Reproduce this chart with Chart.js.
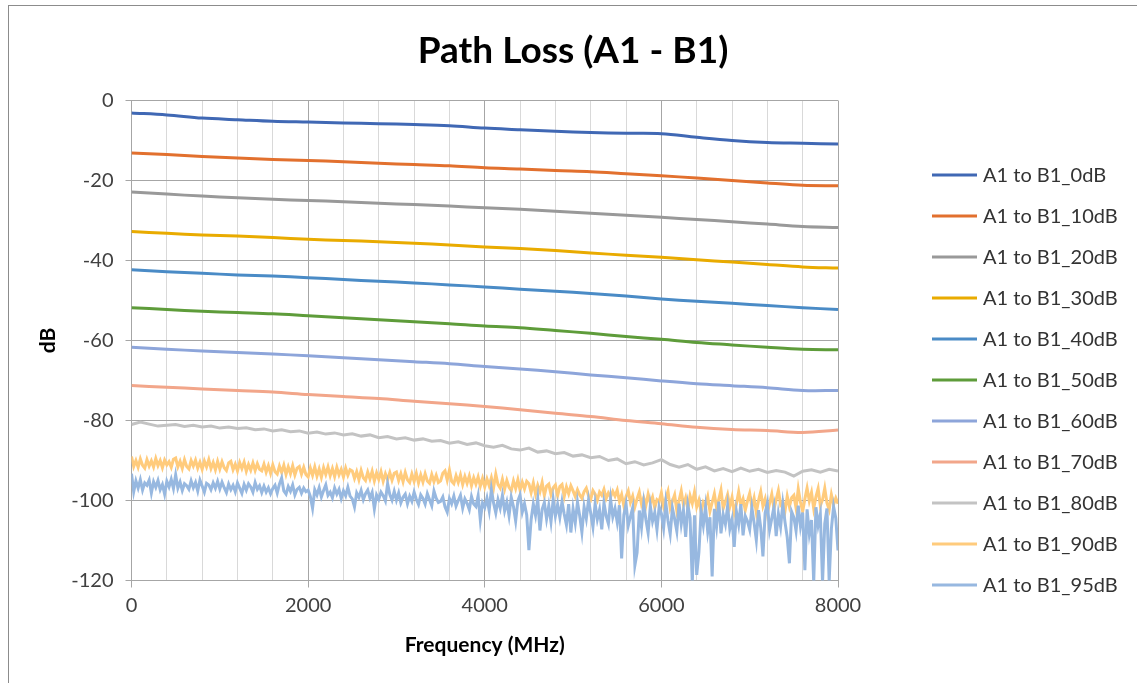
<!DOCTYPE html>
<html lang="en">
<head>
    <meta charset="UTF-8" />
    <title>Path Loss (A1 - B1)</title>
    <script src="https://cdn.jsdelivr.net/npm/chart.js"></script>
    <style>
        html, body { margin: 0; padding: 0; background: #fff; overflow: hidden; }
        #wrap { position: relative; width: 1137px; height: 683px; }
        #frame { position: absolute; left: 8px; top: 5px; width: 1200px; height: 800px; border: 1px solid #8c8c8c; box-sizing: border-box; pointer-events: none; }
    </style>
</head>
<body>
<div id="wrap">
    <canvas id="pathLossChart"></canvas>
    <div id="frame"></div>
</div>
<script>
// frequency grids (MHz)
const smoothFreq = [0, 400, 800, 1200, 1600, 2000, 2400, 2800, 3200, 3600, 4000,
    4400, 4800, 5200, 5600, 6000, 6400, 6800, 7200, 7600, 8000];

const midFreq = [0, 100, 200, 300, 400, 500, 600, 700, 800, 900,
    1000, 1100, 1200, 1300, 1400, 1500, 1600, 1700, 1800, 1900,
    2000, 2100, 2200, 2300, 2400, 2500, 2600, 2700, 2800, 2900,
    3000, 3100, 3200, 3300, 3400, 3500, 3600, 3700, 3800, 3900,
    4000, 4100, 4200, 4300, 4400, 4500, 4600, 4700, 4800, 4900,
    5000, 5100, 5200, 5300, 5400, 5500, 5600, 5700, 5800, 5900,
    6000, 6100, 6200, 6300, 6400, 6500, 6600, 6700, 6800, 6900,
    7000, 7100, 7200, 7300, 7400, 7500, 7600, 7700, 7800, 7900, 8000];

const fineFreq = [
    0, 25, 50, 75, 100, 125, 150, 175, 200, 225, 250, 275, 300, 325, 350, 375, 400, 425, 450, 475,
    500, 525, 550, 575, 600, 625, 650, 675, 700, 725, 750, 775, 800, 825, 850, 875, 900, 925, 950, 975,
    1000, 1025, 1050, 1075, 1100, 1125, 1150, 1175, 1200, 1225, 1250, 1275, 1300, 1325, 1350, 1375, 1400, 1425, 1450, 1475,
    1500, 1525, 1550, 1575, 1600, 1625, 1650, 1675, 1700, 1725, 1750, 1775, 1800, 1825, 1850, 1875, 1900, 1925, 1950, 1975,
    2000, 2025, 2050, 2075, 2100, 2125, 2150, 2175, 2200, 2225, 2250, 2275, 2300, 2325, 2350, 2375, 2400, 2425, 2450, 2475,
    2500, 2525, 2550, 2575, 2600, 2625, 2650, 2675, 2700, 2725, 2750, 2775, 2800, 2825, 2850, 2875, 2900, 2925, 2950, 2975,
    3000, 3025, 3050, 3075, 3100, 3125, 3150, 3175, 3200, 3225, 3250, 3275, 3300, 3325, 3350, 3375, 3400, 3425, 3450, 3475,
    3500, 3525, 3550, 3575, 3600, 3625, 3650, 3675, 3700, 3725, 3750, 3775, 3800, 3825, 3850, 3875, 3900, 3925, 3950, 3975,
    4000, 4025, 4050, 4075, 4100, 4125, 4150, 4175, 4200, 4225, 4250, 4275, 4300, 4325, 4350, 4375, 4400, 4425, 4450, 4475,
    4500, 4525, 4550, 4575, 4600, 4625, 4650, 4675, 4700, 4725, 4750, 4775, 4800, 4825, 4850, 4875, 4900, 4925, 4950, 4975,
    5000, 5025, 5050, 5075, 5100, 5125, 5150, 5175, 5200, 5225, 5250, 5275, 5300, 5325, 5350, 5375, 5400, 5425, 5450, 5475,
    5500, 5525, 5550, 5575, 5600, 5625, 5650, 5675, 5700, 5725, 5750, 5775, 5800, 5825, 5850, 5875, 5900, 5925, 5950, 5975,
    6000, 6025, 6050, 6075, 6100, 6125, 6150, 6175, 6200, 6225, 6250, 6275, 6300, 6325, 6350, 6375, 6400, 6425, 6450, 6475,
    6500, 6525, 6550, 6575, 6600, 6625, 6650, 6675, 6700, 6725, 6750, 6775, 6800, 6825, 6850, 6875, 6900, 6925, 6950, 6975,
    7000, 7025, 7050, 7075, 7100, 7125, 7150, 7175, 7200, 7225, 7250, 7275, 7300, 7325, 7350, 7375, 7400, 7425, 7450, 7475,
    7500, 7525, 7550, 7575, 7600, 7625, 7650, 7675, 7700, 7725, 7750, 7775, 7800, 7825, 7850, 7875, 7900, 7925, 7950, 7975,
    8000];

// path loss in dB
const loss0dB  = [-3.1, -3.6, -4.4, -4.8, -5.2, -5.4, -5.6, -5.8, -6.0, -6.3, -6.9,
    -7.3, -7.7, -8.0, -8.2, -8.3, -9.2, -10.0, -10.5, -10.7, -10.9];
const loss10dB = [-13.1, -13.5, -14.0, -14.4, -14.75, -15.0, -15.3, -15.7, -16.0, -16.3, -16.8,
    -17.1, -17.5, -17.8, -18.3, -18.8, -19.4, -20.0, -20.6, -21.2, -21.3];
const loss20dB = [-22.9, -23.4, -23.9, -24.3, -24.7, -25.0, -25.3, -25.7, -26.0, -26.4, -26.8,
    -27.2, -27.7, -28.2, -28.7, -29.2, -29.75, -30.3, -30.9, -31.5, -31.75];
const loss30dB = [-32.75, -33.2, -33.6, -33.9, -34.25, -34.7, -35.0, -35.3, -35.7, -36.1, -36.6,
    -37.0, -37.5, -38.1, -38.7, -39.2, -39.8, -40.4, -41.0, -41.6, -41.9];
const loss40dB = [-42.3, -42.8, -43.2, -43.6, -43.9, -44.3, -44.75, -45.2, -45.6, -46.1, -46.6,
    -47.2, -47.7, -48.25, -48.9, -49.6, -50.2, -50.7, -51.25, -51.8, -52.25];
const loss50dB = [-51.8, -52.25, -52.7, -53.0, -53.3, -53.8, -54.3, -54.8, -55.3, -55.8, -56.4,
    -56.8, -57.5, -58.2, -59.0, -59.7, -60.5, -61.1, -61.7, -62.2, -62.3];
const loss60dB = [-61.7, -62.2, -62.6, -63.0, -63.4, -63.8, -64.3, -64.8, -65.3, -65.8, -66.5,
    -67.1, -67.8, -68.6, -69.3, -70.1, -70.8, -71.3, -71.8, -72.5, -72.5];
const loss70dB = [-71.25, -71.7, -72.1, -72.5, -72.9, -73.5, -74.0, -74.5, -75.2, -75.8, -76.5,
    -77.3, -78.2, -79.0, -80.0, -80.8, -81.7, -82.25, -82.5, -83.0, -82.4];

const loss80dB = [
    -81.0, -80.4, -80.9, -81.4, -81.2, -81.0, -81.5, -81.2, -81.6, -81.4,
    -81.9, -81.6, -82.0, -81.8, -82.3, -82.1, -82.6, -82.3, -82.8, -82.6,
    -83.2, -82.9, -83.4, -83.1, -83.6, -83.3, -83.9, -83.6, -84.3, -84.0,
    -84.6, -84.3, -84.9, -84.6, -85.2, -85.0, -85.7, -85.3, -86.0, -85.6,
    -86.3, -86.7, -86.2, -87.1, -87.4, -86.9, -87.9, -87.6, -88.3, -88.0,
    -88.9, -88.6, -89.3, -89.0, -90.0, -89.6, -90.8, -90.3, -91.1, -90.6,
    -89.8, -91.0, -91.7, -91.0, -92.2, -91.6, -92.6, -92.0, -92.8, -91.9,
    -92.7, -92.2, -93.0, -92.5, -92.9, -93.9, -92.7, -92.3, -92.9, -92.2,
    -92.6];

const loss90dB = [
    -89.0, -91.5, -90.0, -91.7, -89.6, -91.2, -91.9, -89.8, -91.4, -90.1, -91.6, -89.5, -91.3, -90.0, -91.8, -89.9, -91.1, -90.3, -91.7, -89.7,
    -89.4, -91.6, -90.2, -92.0, -89.8, -91.5, -92.1, -90.0, -91.4, -89.9, -91.9, -90.4, -92.2, -90.1, -91.6, -89.8, -92.0, -90.5, -92.3, -90.2,
    -92.1, -90.3, -91.8, -92.5, -90.6, -90.2, -92.3, -90.9, -92.6, -90.5, -92.0, -90.4, -92.7, -91.0, -92.4, -90.6, -92.5, -90.8, -92.2, -92.6,
    -90.9, -92.9, -91.3, -93.2, -91.1, -92.8, -93.4, -91.4, -93.0, -91.2, -93.5, -91.6, -93.3, -91.3, -93.6, -91.9, -91.5, -93.4, -91.7, -93.5,
    -94.1, -91.9, -93.7, -91.6, -93.9, -92.1, -94.2, -91.8, -93.5, -91.6, -93.8, -92.0, -94.0, -91.7, -93.6, -92.2, -94.1, -91.9, -93.7, -92.3,
    -92.6, -94.5, -92.8, -94.8, -92.5, -94.3, -95.0, -92.9, -94.6, -92.7, -95.1, -93.1, -94.7, -92.8, -95.2, -93.3, -94.8, -93.0, -94.9, -93.2,
    -92.9, -95.0, -93.3, -95.3, -93.0, -94.8, -95.5, -93.4, -95.2, -93.2, -95.6, -93.6, -95.4, -93.3, -95.1, -95.7, -93.5, -95.3, -93.7, -95.5,
    -95.1, -93.2, -92.6, -94.9, -92.4, -95.2, -95.8, -93.8, -95.5, -93.6, -96.0, -94.0, -95.7, -93.9, -96.3, -94.3, -95.9, -94.1, -96.4, -94.5,
    -96.6, -94.6, -96.3, -94.3, -96.8, -93.4, -96.0, -96.9, -94.7, -97.2, -95.0, -96.7, -97.5, -95.1, -97.0, -94.8, -97.4, -95.4, -97.1, -95.2,
    -95.8, -98.0, -95.6, -98.4, -96.2, -97.8, -95.5, -98.7, -96.4, -95.9, -98.5, -96.8, -96.1, -98.8, -96.5, -96.0, -99.0, -96.6, -98.3, -96.3,
    -97.6, -99.0, -97.3, -98.6, -99.4, -97.8, -96.9, -98.8, -99.7, -97.5, -98.4, -99.9, -97.9, -98.7, -97.2, -99.5, -98.1, -99.1, -97.7, -98.9,
    -97.4, -100.2, -98.5, -101.3, -99.0, -97.6, -100.5, -98.9, -101.6, -99.6, -97.9, -100.9, -99.3, -101.2, -98.4, -100.6, -99.1, -101.8, -99.8, -100.3,
    -98.1, -101.4, -99.5, -97.7, -101.9, -100.2, -98.6, -102.5, -100.0, -97.6, -101.1, -99.3, -102.2, -98.8, -100.7, -97.9, -101.6, -99.9, -102.9, -100.4,
    -101.3, -99.1, -102.7, -100.5, -98.3, -101.8, -99.7, -97.4, -102.0, -100.3, -98.5, -101.5, -99.2, -103.1, -100.8, -97.8, -101.2, -99.6, -102.4, -100.1,
    -98.2, -101.7, -99.4, -103.0, -100.0, -97.8, -101.4, -99.6, -103.3, -100.7, -98.4, -102.1, -99.8, -97.5, -101.0, -100.2, -102.6, -98.9, -101.5, -99.3,
    -98.7, -101.9, -97.1, -100.4, -102.7, -99.6, -96.9, -100.1, -98.0, -102.0, -99.1, -97.0, -101.3, -99.8, -96.9, -100.6, -102.3, -98.5, -101.0, -99.4,
    -100.8];

const loss95dB = [
    -93.3, -97.8, -95.1, -96.9, -94.8, -97.4, -95.6, -96.2, -94.9, -98.1, -95.3, -96.7, -95.0, -97.3, -96.0, -98.4, -95.2, -96.6, -94.7, -97.0,
    -93.6, -96.9, -95.4, -97.5, -95.8, -96.3, -97.2, -95.1, -96.8, -95.5, -97.6, -94.9, -96.4, -97.9, -95.7, -96.1, -97.3, -95.6, -96.9, -95.2,
    -97.1, -95.4, -96.8, -98.0, -95.9, -97.3, -96.2, -97.8, -95.6, -96.9, -98.2, -96.0, -97.4, -95.8, -96.6, -97.9, -95.5, -97.2, -96.3, -98.0,
    -96.4, -97.9, -96.8, -98.3, -97.0, -96.2, -98.1, -95.9, -94.4, -97.6, -98.4, -96.5, -97.7, -96.1, -98.6, -97.2, -96.7, -98.2, -96.9, -97.8,
    -97.4, -99.0, -101.9, -97.3, -98.6, -96.8, -99.1, -97.5, -96.1, -98.7, -97.9, -99.3, -96.9, -98.4, -97.2, -99.5, -97.6, -98.8, -96.7, -98.9,
    -99.6, -101.6, -98.1, -99.2, -97.5, -99.8, -98.3, -97.4, -99.4, -98.0, -102.1, -98.6, -99.7, -97.9, -98.8, -100.1, -95.8, -98.5, -99.9, -97.7,
    -99.9, -98.1, -100.6, -99.2, -98.4, -100.8, -98.9, -100.2, -97.9, -99.7, -101.0, -98.6, -99.5, -100.9, -98.3, -99.8, -101.3, -97.6, -99.4, -100.5,
    -100.2, -99.1, -101.6, -102.9, -99.5, -100.8, -98.9, -101.4, -100.0, -98.7, -101.9, -99.6, -100.7, -102.3, -99.0, -100.9, -101.5, -98.8, -104.9, -100.6,
    -101.7, -99.4, -102.5, -97.2, -100.6, -103.1, -99.8, -101.9, -98.7, -102.6, -100.4, -103.8, -99.2, -101.5, -105.1, -100.1, -98.6, -102.9, -100.8, -103.6,
    -112.4, -104.8, -100.9, -103.7, -99.6, -107.5, -102.2, -100.5, -104.6, -101.3, -105.3, -99.8, -103.9, -101.0, -104.2, -100.3, -103.4, -106.1, -100.9, -108.0,
    -102.1, -105.6, -100.4, -103.8, -107.9, -101.6, -104.5, -99.9, -103.2, -106.6, -100.8, -104.7, -102.3, -107.2, -100.6, -103.9, -105.8, -99.7, -104.1, -102.0,
    -105.4, -101.2, -114.5, -103.6, -100.9, -106.3, -104.0, -101.8, -116.2, -113.0, -102.5, -106.7, -100.7, -104.8, -108.1, -101.4, -105.2, -103.0, -107.3, -101.6,
    -103.3, -106.9, -100.6, -105.1, -108.4, -101.9, -104.6, -107.7, -100.8, -105.9, -102.4, -109.1, -101.2, -104.3, -120.5, -103.7, -118.6, -113.0, -102.6, -106.2,
    -101.6, -107.8, -104.2, -119.0, -102.1, -106.5, -100.3, -108.2, -103.5, -105.9, -101.4, -107.1, -104.7, -111.6, -102.8, -106.0, -100.9, -108.7, -103.9, -105.2,
    -107.3, -101.8, -105.6, -109.9, -102.4, -106.8, -114.0, -103.1, -100.7, -107.4, -104.5, -101.6, -108.9, -103.3, -106.6, -100.9, -105.4, -109.2, -115.7, -102.8,
    -104.2, -107.6, -101.3, -106.4, -103.0, -117.4, -102.2, -108.3, -104.9, -120.5, -101.7, -106.2, -103.4, -120.5, -105.8, -102.0, -120.2, -107.1, -101.5, -104.4,
    -112.5];

const seriesNames = ['A1 to B1_0dB', 'A1 to B1_10dB', 'A1 to B1_20dB', 'A1 to B1_30dB',
    'A1 to B1_40dB', 'A1 to B1_50dB', 'A1 to B1_60dB', 'A1 to B1_70dB',
    'A1 to B1_80dB', 'A1 to B1_90dB', 'A1 to B1_95dB'];
const seriesColors = ['#4068B4', '#E2702E', '#999999', '#E9AB00', '#4A8BC6', '#5E9C3A',
    '#8DA5DA', '#F2A68A', '#C3C3C3', '#FFCB7C', '#97B8E0'];
const seriesFreq = [smoothFreq, smoothFreq, smoothFreq, smoothFreq, smoothFreq, smoothFreq,
    smoothFreq, smoothFreq, midFreq, fineFreq, fineFreq];
const seriesValues = [loss0dB, loss10dB, loss20dB, loss30dB, loss40dB, loss50dB,
    loss60dB, loss70dB, loss80dB, loss90dB, loss95dB];

const chartTitle = 'Path Loss (A1 - B1)';

Chart.defaults.font.family = 'Lato';
Chart.defaults.color = '#404040';

const datasets = seriesNames.map((name, i) => ({
    label: name,
    data: seriesValues[i].map((v, j) => ({ x: seriesFreq[i][j], y: v })),
    borderColor: seriesColors[i],
    backgroundColor: seriesColors[i],
    borderWidth: 3,
    pointRadius: 0,
    tension: seriesFreq[i] === smoothFreq ? 0.35 : 0,
    fill: false,
    order: seriesNames.length - i
}));

// title + legend drawn the excel way (title centred on the whole chart, legend at the right)
const excelDecor = {
    id: 'excelDecor',
    afterDraw(chart) {
        const ctx = chart.ctx;
        ctx.save();
        ctx.fillStyle = '#000';
        ctx.font = 'bold 37px Lato';
        ctx.textAlign = 'center';
        ctx.textBaseline = 'middle';
        ctx.fillText(chartTitle, 573, 51);

        ctx.font = '20px Lato';
        ctx.textAlign = 'left';
        chart.data.datasets.forEach((ds, i) => {
            const y = 175 + i * 41;
            ctx.strokeStyle = ds.borderColor;
            ctx.lineWidth = 3;
            ctx.beginPath();
            ctx.moveTo(932, y);
            ctx.lineTo(977, y);
            ctx.stroke();
            ctx.fillStyle = '#333333';
            ctx.fillText(ds.label, 983, y + 1);
        });
        ctx.restore();
    }
};

const majorGrid = '#a6a6a6';
const minorGrid = '#d9d9d9';

new Chart(document.getElementById('pathLossChart'), {
    type: 'line',
    data: { datasets: datasets },
    options: {
        responsive: true,
        maintainAspectRatio: false,
        animation: false,
        layout: { padding: { left: 12, right: 299, top: 100.5, bottom: 0 } },
        plugins: {
            legend: { display: false },
            tooltip: { enabled: false },
            title: { display: false }
        },
        scales: {
            x: {
                type: 'linear',
                min: 0,
                max: 8000,
                afterFit(scale) { scale.height = 102.5; },
                ticks: {
                    stepSize: 400,
                    autoSkip: false,
                    maxRotation: 0,
                    padding: 6,
                    color: '#404040',
                    font: { size: 20 },
                    callback: (v) => (v % 2000 === 0 ? v : '')
                },
                grid: {
                    color: (c) => (c.tick && c.tick.value % 2000 === 0 ? majorGrid : minorGrid),
                    tickColor: (c) => (c.tick && c.tick.value % 2000 === 0 ? majorGrid : 'rgba(0,0,0,0)'),
                    tickLength: 7
                },
                border: { color: majorGrid },
                title: {
                    display: true,
                    text: 'Frequency (MHz)',
                    color: '#000',
                    font: { size: 21, weight: 'bold' },
                    padding: { top: 0, bottom: 25.5 }
                }
            },
            y: {
                min: -120,
                max: 0,
                afterFit(scale) { scale.width = 119.5; },
                ticks: {
                    stepSize: 20,
                    padding: 12,
                    color: '#404040',
                    font: { size: 20 }
                },
                grid: { color: majorGrid, tickColor: majorGrid, tickLength: 6 },
                border: { color: majorGrid },
                title: {
                    display: true,
                    text: 'dB',
                    color: '#000',
                    font: { size: 21, weight: 'bold' },
                    padding: { top: 23.4 }
                }
            }
        }
    },
    plugins: [excelDecor]
});
</script>
</body>
</html>
